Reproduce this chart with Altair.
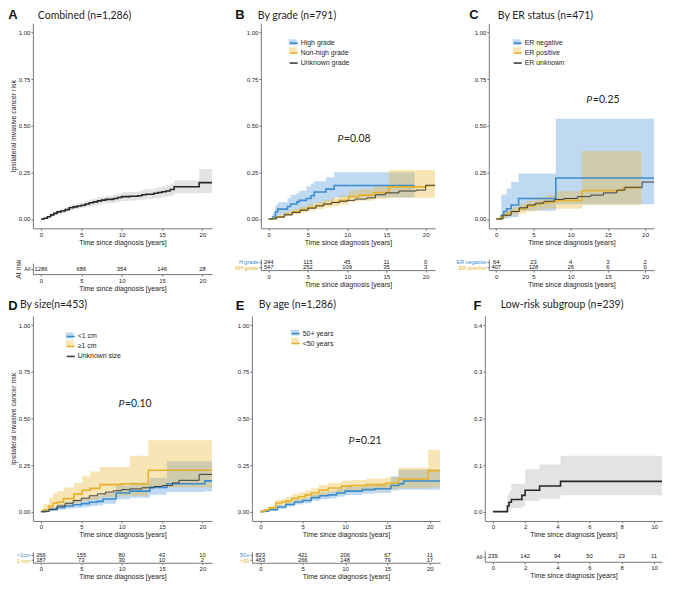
import altair as alt
import pandas as pd

FONT = "Liberation Sans"
TFONT = "Lato"
BLUE = "#3a8ccc"
YEL = "#e6b12a"
BLUEF = "#4a92de"
YELF = "#e8b42c"
UNK = "#3c3c3c"
BLK = "#262626"
GRAYF = "#b8b8b8"
RECT = "M-1,-0.75H1V0.75H-1Z"
XTITLE = "Time since diagnosis [years]"
YTITLE = "Ipsilateral invasive cancer risk"

# ---------------- data ----------------
# A: combined
A_t = [0, 0.4, 0.8, 1.2, 1.6, 2.0, 2.5, 3.0, 3.5, 4.0, 4.5, 5.0, 5.5, 6.0, 6.5, 7.0, 7.5, 8.0, 9.0, 9.5,
       10.0, 11.0, 12.0, 12.5, 13.0, 14.0, 14.5, 15.0, 15.5, 16.0, 16.5, 19.6, 21.2]
A_r = [0, 0.004, 0.012, 0.022, 0.030, 0.038, 0.043, 0.050, 0.060, 0.065, 0.070, 0.074, 0.080, 0.087, 0.092,
       0.097, 0.101, 0.105, 0.110, 0.115, 0.120, 0.122, 0.125, 0.130, 0.133, 0.138, 0.142, 0.146, 0.150,
       0.158, 0.173, 0.195, 0.195]
A_lo = [0, 0.002, 0.007, 0.014, 0.021, 0.028, 0.032, 0.038, 0.047, 0.051, 0.055, 0.059, 0.064, 0.070, 0.074,
        0.078, 0.082, 0.085, 0.089, 0.093, 0.097, 0.099, 0.101, 0.105, 0.107, 0.111, 0.114, 0.117, 0.120,
        0.126, 0.138, 0.140, 0.140]
A_hi = [0, 0.006, 0.017, 0.030, 0.039, 0.048, 0.054, 0.062, 0.073, 0.079, 0.085, 0.089, 0.096, 0.104, 0.110,
        0.116, 0.120, 0.125, 0.131, 0.137, 0.143, 0.145, 0.149, 0.155, 0.159, 0.165, 0.170, 0.175, 0.180,
        0.190, 0.208, 0.268, 0.268]

# B: by grade
HG_t = [0, 0.5, 0.85, 1.15, 2.4, 2.8, 3.6, 3.9, 4.8, 5.4, 5.8, 7.3, 8.35, 18.6]
HG_r = [0, 0.01, 0.039, 0.053, 0.067, 0.08, 0.092, 0.1, 0.11, 0.125, 0.145, 0.16, 0.18, 0.18]
HG_lo = [0, 0.002, 0.012, 0.02, 0.028, 0.036, 0.045, 0.05, 0.058, 0.068, 0.083, 0.095, 0.115, 0.115]
HG_hi = [0, 0.03, 0.075, 0.09, 0.113, 0.13, 0.14, 0.152, 0.176, 0.19, 0.203, 0.224, 0.25, 0.25]
NH_t = [0, 0.5, 1, 2, 3, 4, 5, 6, 7, 8, 9, 10.2, 11.5, 13.4, 15.3, 20.0, 21.2]
NH_r = [0, 0.004, 0.012, 0.025, 0.038, 0.05, 0.062, 0.072, 0.082, 0.09, 0.1, 0.12, 0.128, 0.142, 0.172,
        0.178, 0.178]
NH_lo = [0, 0.001, 0.006, 0.015, 0.025, 0.035, 0.045, 0.054, 0.062, 0.068, 0.076, 0.092, 0.098, 0.108,
         0.114, 0.114, 0.114]
NH_hi = [0, 0.008, 0.02, 0.036, 0.052, 0.066, 0.08, 0.092, 0.103, 0.113, 0.126, 0.151, 0.16, 0.178, 0.263,
         0.263, 0.263]
UG_t = [0, 1, 2, 3, 4, 5, 6, 7, 8, 9, 10, 11, 12.5, 13.6, 14.9, 16.6, 18.8, 20.0, 21.2]
UG_r = [0, 0.01, 0.022, 0.035, 0.047, 0.058, 0.07, 0.08, 0.088, 0.095, 0.1, 0.107, 0.113, 0.13, 0.14, 0.15,
        0.155, 0.181, 0.181]

# C: by ER status
EN_t = [0, 0.67, 1.0, 1.4, 2.0, 3.0, 8.0, 21.2]
EN_r = [0, 0.02, 0.04, 0.055, 0.075, 0.11, 0.22, 0.22]
EN_lo = [0, 0, 0.002, 0.005, 0.01, 0.044, 0.079, 0.079]
EN_hi = [0, 0.13, 0.13, 0.164, 0.198, 0.244, 0.538, 0.538]
EP_t = [0, 0.5, 1, 1.5, 2, 3, 4, 5, 6, 7, 8, 11.5, 17.0, 19.5]
EP_r = [0, 0.008, 0.02, 0.03, 0.04, 0.055, 0.068, 0.078, 0.086, 0.092, 0.1, 0.152, 0.168, 0.168]
EP_lo = [0, 0.002, 0.008, 0.014, 0.02, 0.03, 0.04, 0.046, 0.052, 0.056, 0.055, 0.075, 0.075, 0.075]
EP_hi = [0, 0.02, 0.035, 0.05, 0.062, 0.08, 0.096, 0.11, 0.12, 0.13, 0.15, 0.364, 0.364, 0.364]
EU_t = [0, 0.9, 2.0, 3.1, 4.2, 5.3, 6.4, 7.8, 9.1, 10.9, 12.7, 14.4, 16.2, 17.3, 19.6, 21.2]
EU_r = [0, 0.02, 0.04, 0.06, 0.075, 0.085, 0.095, 0.105, 0.11, 0.12, 0.128, 0.14, 0.155, 0.17, 0.198, 0.198]

# D: by size
S1_t = [0, 0.5, 1, 2, 3, 4, 5, 6, 7, 7.7, 9.3, 11, 13.5, 15.6, 20.3, 21.2]
S1_r = [0, 0.005, 0.012, 0.022, 0.03, 0.037, 0.043, 0.05, 0.055, 0.068, 0.1, 0.11, 0.13, 0.15, 0.165, 0.165]
S1_lo = [0, 0.001, 0.004, 0.01, 0.016, 0.02, 0.024, 0.029, 0.033, 0.043, 0.066, 0.075, 0.09, 0.106, 0.11, 0.11]
S1_hi = [0, 0.012, 0.025, 0.04, 0.05, 0.06, 0.068, 0.078, 0.085, 0.1, 0.14, 0.155, 0.18, 0.27, 0.27, 0.27]
S2_t = [0, 0.3, 1, 1.5, 2, 2.8, 4.1, 5.1, 6.1, 7.3, 10, 11, 13.3, 21.2]
S2_r = [0, 0.01, 0.03, 0.045, 0.05, 0.07, 0.094, 0.115, 0.125, 0.145, 0.15, 0.15, 0.222, 0.222]
S2_lo = [0, 0.0, 0.01, 0.016, 0.02, 0.03, 0.045, 0.058, 0.064, 0.078, 0.085, 0.085, 0.13, 0.13]
S2_hi = [0, 0.04, 0.074, 0.1, 0.11, 0.13, 0.153, 0.19, 0.215, 0.24, 0.24, 0.3, 0.383, 0.383]
SU_t = [0, 1, 2, 3, 4, 5, 6, 7, 8, 9, 10, 11, 12.5, 14, 15, 16.3, 17.1, 19.6, 21.2]
SU_r = [0, 0.012, 0.03, 0.045, 0.06, 0.072, 0.085, 0.095, 0.105, 0.112, 0.118, 0.122, 0.128, 0.135, 0.14,
        0.154, 0.168, 0.2, 0.2]

# E: by age
O_t = [0, 0.3, 1, 2, 3, 4, 5, 6, 7, 8, 9, 10, 12, 13.5, 15.4, 16.3, 16.9, 21.2]
O_r = [0, 0.003, 0.01, 0.025, 0.038, 0.052, 0.06, 0.075, 0.085, 0.09, 0.1, 0.11, 0.118, 0.123, 0.14, 0.149,
       0.164, 0.164]
O_lo = [0, 0.001, 0.005, 0.016, 0.027, 0.038, 0.045, 0.058, 0.066, 0.071, 0.08, 0.089, 0.096, 0.1, 0.113,
        0.118, 0.118, 0.118]
O_hi = [0, 0.006, 0.016, 0.035, 0.05, 0.066, 0.075, 0.092, 0.104, 0.11, 0.12, 0.132, 0.14, 0.146, 0.19,
        0.226, 0.226, 0.226]
Y_t = [0, 0.5, 1, 1.8, 2.5, 3, 3.7, 4.5, 5.3, 6, 6.9, 8, 9.6, 10.8, 12.5, 14.8, 16.3, 19.8, 21.2]
Y_r = [0, 0.008, 0.02, 0.046, 0.05, 0.058, 0.072, 0.08, 0.09, 0.1, 0.115, 0.127, 0.137, 0.14, 0.145, 0.152,
       0.175, 0.22, 0.22]
Y_lo = [0, 0.003, 0.01, 0.03, 0.034, 0.04, 0.052, 0.058, 0.066, 0.075, 0.089, 0.1, 0.108, 0.111, 0.115, 0.12,
        0.125, 0.13, 0.13]
Y_hi = [0, 0.015, 0.032, 0.064, 0.068, 0.078, 0.094, 0.103, 0.115, 0.126, 0.142, 0.155, 0.166, 0.17, 0.176,
        0.185, 0.235, 0.332, 0.332]

# F: low-risk subgroup
F_t = [0, 0.9, 1.0, 1.15, 1.8, 2.0, 2.9, 4.2, 10.5]
F_r = [0, 0.012, 0.02, 0.026, 0.035, 0.046, 0.055, 0.065, 0.065]
F_lo = [0, 0.0, 0.004, 0.008, 0.011, 0.023, 0.028, 0.035, 0.035]
F_hi = [0, 0.035, 0.045, 0.06, 0.06, 0.091, 0.101, 0.12, 0.12]

# at-risk tables
RISK_T = [0, 5, 10, 15, 20]
A_n = [1286, 686, 354, 146, 28]
B_H = [244, 115, 45, 11, 0]
B_NH = [547, 252, 109, 35, 3]
C_neg = [64, 23, 4, 3, 2]
C_pos = [407, 128, 26, 6, 0]
D_s = [266, 155, 80, 43, 10]
D_l = [187, 73, 30, 10, 2]
E_o = [823, 421, 206, 67, 11]
E_y = [463, 266, 148, 79, 17]
F_RT = [0, 2, 4, 6, 8, 10]
F_n = [239, 142, 94, 50, 23, 11]


def line_df(groups):
    rows = []
    for name, t, r in groups:
        for a, b in zip(t, r):
            rows.append({"t": a, "r": b, "grp": name})
    return pd.DataFrame(rows)


def band_df(groups):
    rows = []
    for name, t, lo, hi in groups:
        for a, l, h in zip(t, lo, hi):
            rows.append({"t": a, "lo": l, "hi": h, "bgrp": name})
    return pd.DataFrame(rows)


def risk_df(groups, times):
    rows = []
    for name, ns in groups:
        for a, n in zip(times, ns):
            rows.append({"t": a, "n": str(n), "grp": name})
    return pd.DataFrame(rows)


def text_layer(txt, x, y, size, font=TFONT, weight="normal", style="normal"):
    return alt.Chart(pd.DataFrame({"lab": [txt]})).mark_text(
        font=font, fontSize=size, fontWeight=weight, fontStyle=style, align="left",
        baseline="middle", color="#1e1e1e").encode(x=alt.value(x), y=alt.value(y), text="lab:N")


def letter_layer(txt, x, y):
    return alt.Chart(pd.DataFrame({"lab": [txt]})).mark_text(
        font=FONT, fontSize=13, fontWeight="bold", align="center", baseline="middle",
        color="#111111").encode(x=alt.value(x), y=alt.value(y), text="lab:N")


H = 206
TH = 11


def panel(p):
    xs = alt.Scale(domain=p["xdom"], nice=False, zero=False)
    ys = alt.Scale(domain=p["ydom"], nice=False, zero=False)
    xax = alt.Axis(values=p["xticks"], title=XTITLE, format="d")
    yax = alt.Axis(values=p["yticks"], format=p["yfmt"], title=p.get("ytitle"), titlePadding=2)
    if p["multi"]:
        lx, ly = p["legend"]
        fill = alt.Fill("bgrp:N", scale=alt.Scale(range=[BLUEF, YELF]),
                        legend=alt.Legend(orient="none", legendX=lx, legendY=ly, title=None,
                                          symbolType=RECT, symbolSize=64, symbolOpacity=0.35,
                                          symbolStrokeWidth=0, labelFont=FONT, labelFontSize=7,
                                          labelExpr="''", labelOffset=2, rowPadding=1,
                                          padding=0))
        stroke = alt.Stroke("grp:N", scale=alt.Scale(domain=p["sdom"], range=p["srng"]),
                            legend=alt.Legend(orient="none", legendX=lx, legendY=ly, title=None,
                                              symbolType="stroke", symbolSize=64, symbolStrokeWidth=1.6,
                                              labelFont=FONT, labelFontSize=7, labelColor="#1e1e1e",
                                              labelOffset=2, rowPadding=1, padding=0))
        if p.get("unk"):
            sw = {"condition": {"test": "datum.grp == '%s'" % p["unk"], "value": 1.0}, "value": 1.6}
        else:
            sw = alt.value(1.6)
        op = 0.35
    else:
        fill = alt.value(GRAYF)
        stroke = alt.value(BLK)
        sw = alt.value(1.6)
        op = 0.4
    area = alt.Chart(p["bands"]).mark_area(interpolate="step-after", opacity=op).encode(
        x=alt.X("t:Q", scale=xs, axis=xax),
        y=alt.Y("lo:Q", scale=ys, axis=yax),
        y2="hi:Q",
        fill=fill,
    )
    lines = alt.Chart(p["lines"]).mark_line(interpolate="step-after").encode(
        x=alt.X("t:Q", scale=xs, axis=xax),
        y=alt.Y("r:Q", scale=ys, axis=yax),
        stroke=stroke,
        strokeWidth=sw,
    )
    layers = [area, lines,
              letter_layer(p["letter"], p["lx"], p["ly"]),
              text_layer(p["title"], p["tx"], p["ty"], 10.5)]
    if p.get("pval"):
        px, py = p["ppos"]
        layers.append(text_layer("P", px, py, 10.5, style="italic"))
        layers.append(text_layer("=" + p["pval"], px + 6.5, py, 10.5))
    main = alt.layer(*layers).properties(width=p["w"], height=H)

    rg = p["rgroups"]
    if len(rg) == 2:
        lc = {"condition": {"test": "datum.value === '%s'" % rg[0], "value": BLUE}, "value": YEL}
    else:
        lc = "#1e1e1e"
    table = alt.Chart(p["risk"]).mark_text(font=FONT, fontSize=5.8, color="#111111").encode(
        x=alt.X("t:Q", scale=alt.Scale(domain=p["xdom"], nice=False, zero=False),
                axis=alt.Axis(values=p["rticks"], title=XTITLE, format="d")),
        y=alt.Y("grp:N", scale=alt.Scale(domain=rg),
                axis=alt.Axis(title=p.get("rtitle"), labelColor=lc, labelFontSize=5.5, titlePadding=2)),
        text="n:N",
    ).properties(width=p["w"], height=TH)
    return alt.vconcat(main, table, spacing=13).resolve_scale(fill="independent", stroke="independent")


XD = [-1.0, 21.2]
YD = [-0.05, 1.05]
YT = [0, 0.25, 0.5, 0.75, 1.0]
XT = [0, 5, 10, 15, 20]

pA = dict(multi=False, w=180, xdom=XD, ydom=YD, xticks=XT, yticks=YT, yfmt=".2f", ytitle=YTITLE,
          bands=band_df([("All", A_t, A_lo, A_hi)]), lines=line_df([("All", A_t, A_r)]),
          letter="A", lx=-20, ly=-8, title="Combined (n=1,286)", tx=5, ty=-7.7,
          risk=risk_df([("All", A_n)], RISK_T), rgroups=["All"], rticks=XT, rtitle="At risk")

pB = dict(multi=True, w=175, xdom=XD, ydom=YD, xticks=XT, yticks=YT, yfmt=".2f", ytitle=None,
          bands=band_df([("High grade", HG_t, HG_lo, HG_hi), ("Non-high grade", NH_t, NH_lo, NH_hi)]),
          lines=line_df([("High grade", HG_t, HG_r), ("Non-high grade", NH_t, NH_r),
                         ("Unknown grade", UG_t, UG_r)]),
          sdom=["High grade", "Non-high grade", "Unknown grade"], srng=[BLUE, YEL, UNK], unk="Unknown grade",
          legend=(28, 15), letter="B", lx=-21, ly=-8, title="By grade (n=791)", tx=-3, ty=-7.7,
          pval="0.08", ppos=(77, 116),
          risk=risk_df([("H grade", B_H), ("NH grade", B_NH)], RISK_T), rgroups=["H grade", "NH grade"],
          rticks=XT, rtitle=None)

pC = dict(multi=True, w=166, xdom=XD, ydom=YD, xticks=XT, yticks=YT, yfmt=".2f", ytitle=None,
          bands=band_df([("ER negative", EN_t, EN_lo, EN_hi), ("ER positive", EP_t, EP_lo, EP_hi)]),
          lines=line_df([("ER negative", EN_t, EN_r), ("ER positive", EP_t, EP_r),
                         ("ER unknown", EU_t, EU_r)]),
          sdom=["ER negative", "ER positive", "ER unknown"], srng=[BLUE, YEL, UNK], unk="ER unknown",
          legend=(24, 15), letter="C", lx=-15, ly=-8, title="By ER status (n=471)", tx=9, ty=-7.7,
          pval="0.25", ppos=(98, 77),
          risk=risk_df([("ER negative", C_neg), ("ER positive", C_pos)], RISK_T),
          rgroups=["ER negative", "ER positive"], rticks=XT, rtitle=None)

pD = dict(multi=True, w=180, xdom=XD, ydom=YD, xticks=XT, yticks=YT, yfmt=".2f", ytitle=YTITLE,
          bands=band_df([("<1 cm", S1_t, S1_lo, S1_hi), ("\u22651 cm", S2_t, S2_lo, S2_hi)]),
          lines=line_df([("<1 cm", S1_t, S1_r), ("\u22651 cm", S2_t, S2_r), ("Unknown size", SU_t, SU_r)]),
          sdom=["<1 cm", "\u22651 cm", "Unknown size"], srng=[BLUE, YEL, UNK], unk="Unknown size",
          legend=(33, 15.7), letter="D", lx=-20, ly=-10, title="By size(n=453)", tx=-13, ty=-11,
          pval="0.10", ppos=(86, 89),
          risk=risk_df([("<1cm", D_s), ("1>cm", D_l)], RISK_T), rgroups=["<1cm", "1>cm"],
          rticks=XT, rtitle=None)

pE = dict(multi=True, w=189, xdom=XD, ydom=YD, xticks=XT, yticks=YT, yfmt=".2f", ytitle=None,
          bands=band_df([("50+ years", O_t, O_lo, O_hi), ("<50 years", Y_t, Y_lo, Y_hi)]),
          lines=line_df([("50+ years", O_t, O_r), ("<50 years", Y_t, Y_r)]),
          sdom=["50+ years", "<50 years"], srng=[BLUE, YEL], unk=None,
          legend=(39, 12.8), letter="E", lx=-12, ly=-10, title="By age (n=1,286)", tx=7, ty=-11,
          pval="0.21", ppos=(97, 126),
          risk=risk_df([("50+", E_o), ("<50", E_y)], RISK_T), rgroups=["50+", "<50"],
          rticks=XT, rtitle=None)

pF = dict(multi=False, w=178, xdom=[-0.5, 10.5], ydom=[-0.02, 0.42], xticks=[0, 2, 4, 6, 8, 10],
          yticks=[0, 0.1, 0.2, 0.3, 0.4], yfmt=".1f", ytitle=None,
          bands=band_df([("All", F_t, F_lo, F_hi)]), lines=line_df([("All", F_t, F_r)]),
          letter="F", lx=-7.5, ly=-10, title="Low-risk subgroup (n=239)", tx=16, ty=-11,
          risk=risk_df([("All", F_n)], F_RT), rgroups=["All"], rticks=F_RT, rtitle=None)

IND = dict(fill="independent", stroke="independent")

row1 = alt.hconcat(
    panel(pA),
    alt.hconcat(panel(pB), panel(pC), spacing=17).resolve_scale(**IND),
    spacing=18,
).resolve_scale(**IND)

row2 = alt.hconcat(
    panel(pD),
    alt.hconcat(panel(pE), panel(pF), spacing=29).resolve_scale(**IND),
    spacing=19,
).resolve_scale(**IND)

chart = alt.vconcat(row1, row2, spacing=9, padding=0).resolve_scale(**IND).configure_view(
    stroke=None
).configure_axis(
    labelFont=FONT, titleFont=FONT, labelFontSize=6, titleFontSize=7, titleFontWeight="normal",
    domainColor="#777777", tickColor="#777777", labelColor="#1e1e1e", titleColor="#1e1e1e",
    tickSize=2, labelPadding=1, titlePadding=1, grid=False, domainWidth=1, tickWidth=1,
)

chart.save("out.html", embed_options={"renderer": "svg", "actions": False})
